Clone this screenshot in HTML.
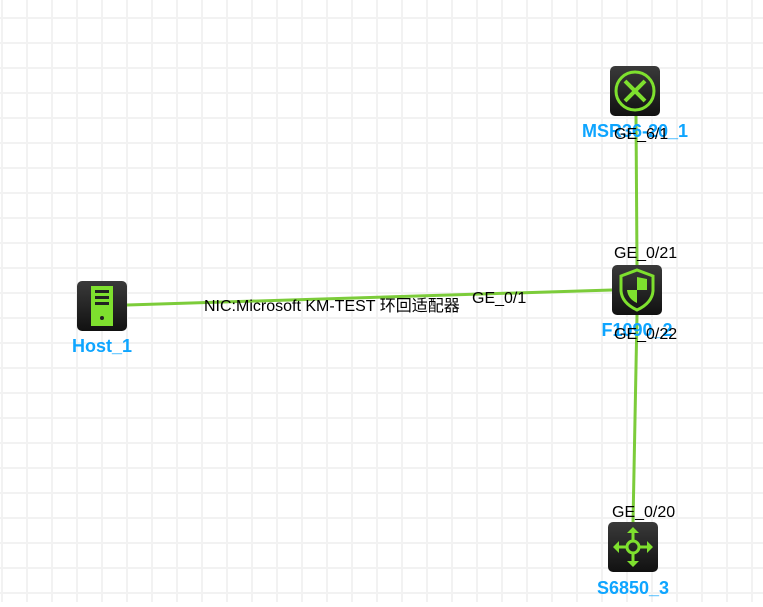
<!DOCTYPE html><html><head><style>body{margin:0}svg text{font-family:"Liberation Sans","Noto Sans CJK SC",sans-serif}</style></head><body>
<svg width="763" height="602" xmlns="http://www.w3.org/2000/svg">
<defs>
<pattern id="g" x="1" y="17" width="25" height="25" patternUnits="userSpaceOnUse"><rect width="25" height="25" fill="#fff"/><rect width="2" height="25" fill="#f2f2f2"/><rect width="25" height="2" fill="#f2f2f2"/></pattern>
<linearGradient id="bg" x1="0" y1="0" x2="0" y2="1"><stop offset="0" stop-color="#3a3a3a"/><stop offset="1" stop-color="#111"/></linearGradient>
</defs>
<rect width="763" height="602" fill="url(#g)"/>
<g stroke="#7ccc3a" stroke-width="3">
<line x1="636" y1="116" x2="637" y2="265"/>
<line x1="127" y1="305" x2="612" y2="290"/>
<line x1="637" y1="315" x2="633" y2="523"/>
</g>
<rect x="610" y="66" width="50" height="50" rx="5" fill="url(#bg)"/>
<circle cx="635" cy="91" r="19" fill="none" stroke="#7ee02e" stroke-width="3"/>
<g stroke="#7ee02e" stroke-width="4" fill="none"><path d="M625 81 L645 101 M645 81 L625 101"/></g>
<rect x="612" y="265" width="50" height="50" rx="5" fill="url(#bg)"/>
<path d="M637 270 L653 276 L653 291 Q652 303 637 310 Q622 303 621 291 L621 276 Z" fill="none" stroke="#7ee02e" stroke-width="3"/>
<path d="M637 277 L637 290 L647 290 L647 279 Z M637 290 L627 290 Q628 299 637 303 Z" fill="#7ee02e"/>
<rect x="77" y="281" width="50" height="50" rx="5" fill="url(#bg)"/>
<rect x="91" y="286" width="22" height="40" fill="#7ee02e"/>
<rect x="95" y="290" width="14" height="3" fill="#222"/><rect x="95" y="296" width="14" height="3" fill="#222"/><rect x="95" y="302" width="14" height="3" fill="#222"/>
<circle cx="102" cy="318" r="2" fill="#222"/>
<rect x="608" y="522" width="50" height="50" rx="5" fill="url(#bg)"/>
<g stroke="#7ee02e" stroke-width="3" fill="none"><circle cx="633" cy="547" r="6"/><path d="M633 541 V529 M633 553 V565 M627 547 H615 M639 547 H651"/></g>
<g fill="#7ee02e"><path d="M627 533 L633 527 L639 533Z M627 561 L633 567 L639 561Z M619 541 L613 547 L619 553Z M647 541 L653 547 L647 553Z"/></g>
<g fill="#0ea5ff" font-weight="bold" font-size="18" text-anchor="middle">
<text x="635" y="137">MSR36-20_1</text>
<text x="637" y="336">F1090_2</text>
<text x="102" y="352">Host_1</text>
<text x="633" y="594">S6850_3</text>
</g>
<g fill="#000" font-size="16">
<text x="614" y="139">GE_6/1</text>
<text x="614" y="258">GE_0/21</text>
<text x="614" y="339">GE_0/22</text>
<text x="612" y="517">GE_0/20</text>
<text x="472" y="303">GE_0/1</text>
<text x="204" y="311">NIC:Microsoft KM-TEST 环回适配器</text>
</g>
</svg></body></html>
